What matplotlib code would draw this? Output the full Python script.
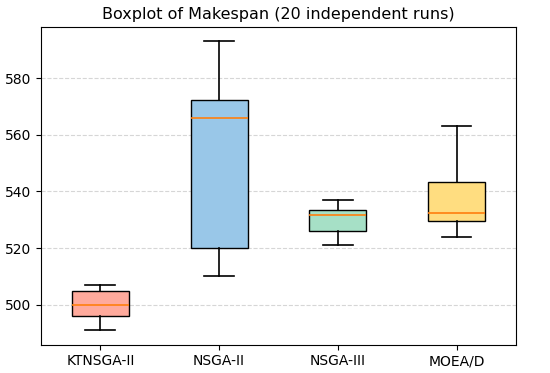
import matplotlib
matplotlib.use("Agg")
import matplotlib.pyplot as plt

# Algorithms compared
algorithms = ['KTNSGA-II', 'NSGA-II', 'NSGA-III', 'MOEA/D']

# Boxplot statistics (makespan)
whisker_low = [491, 510, 521, 524]
q1 = [496, 520, 526, 529.5]
median = [500, 566, 531.5, 532.5]
q3 = [505, 572.3, 533.5, 543.5]
whisker_high = [507, 593, 537, 563]

box_colors = ['#ffaa9c', '#99c7e8', '#a6e0c6', '#ffdd80']

stats = []
for i, name in enumerate(algorithms):
    stats.append({
        'label': name,
        'whislo': whisker_low[i],
        'q1': q1[i],
        'med': median[i],
        'q3': q3[i],
        'whishi': whisker_high[i],
        'fliers': [],
    })

fig = plt.figure(figsize=(5.5, 3.73), dpi=100)
ax = fig.add_axes([0.0745, 0.076, 0.8635, 0.852])

bp = ax.bxp(stats, patch_artist=True, widths=0.48, capwidths=0.25,
            medianprops={'color': '#ff7f0e', 'linewidth': 1.2},
            whiskerprops={'color': 'black', 'linewidth': 1.2},
            capprops={'color': 'black', 'linewidth': 1.2},
            boxprops={'edgecolor': 'black', 'linewidth': 1.0})

for patch, color in zip(bp['boxes'], box_colors):
    patch.set_facecolor(color)

ax.set_title('Boxplot of Makespan (20 independent runs)', fontsize=11.5)
ax.yaxis.grid(True, linestyle='--', color='#cccccc', alpha=0.8)
ax.set_axisbelow(True)
ax.tick_params(labelsize=10)

fig.savefig('out.png', dpi=100)
